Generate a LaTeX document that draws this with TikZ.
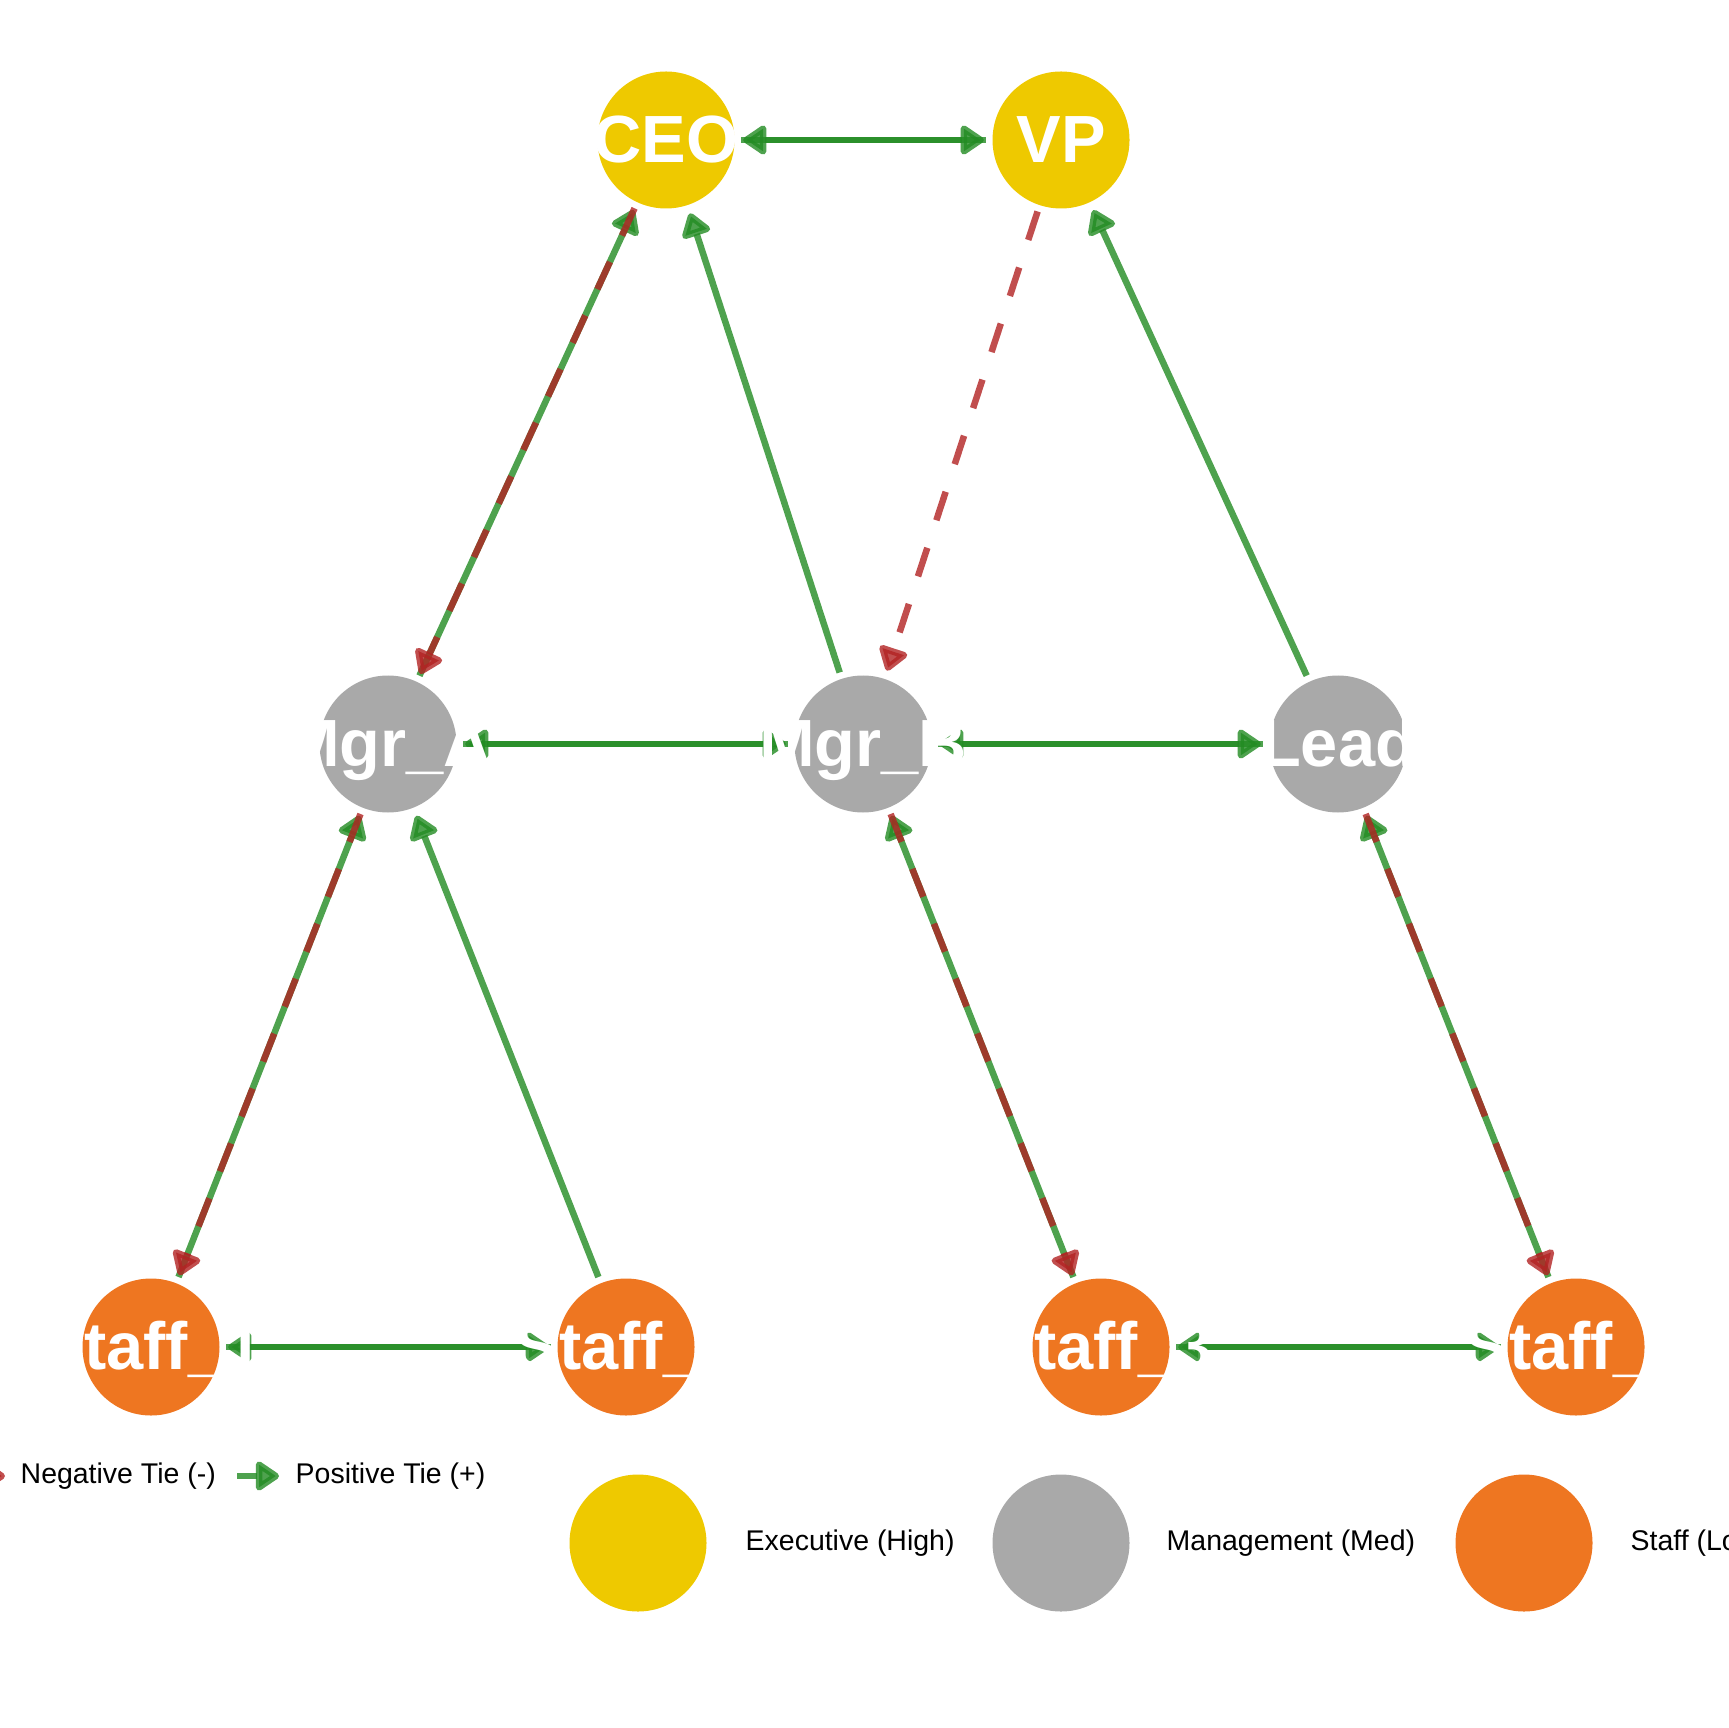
\documentclass[tikz,border=0pt]{standalone}
\usepackage{fontspec}
\setmainfont{Liberation Sans}
\usetikzlibrary{arrows.meta,backgrounds,positioning}
\definecolor{execyellow}{HTML}{EEC900}
\definecolor{mgmtgray}{HTML}{A9A9A9}
\definecolor{stafforange}{HTML}{EE7621}
\definecolor{posgreen}{HTML}{228B22}
\definecolor{negred}{HTML}{B22222}
\newcommand{\actorname}[1]{\makebox[0pt]{\smash{#1}\vphantom{E}}}
\begin{document}
\begin{tikzpicture}[x=1mm,y=-1mm,node distance=47.5mm,
    actor/.style={circle,minimum size=13.7mm,inner sep=0pt,text=white,font=\fontsize{19}{23}\selectfont\bfseries},
    execnode/.style={actor,fill=execyellow},
    mgmtnode/.style={actor,fill=mgmtgray},
    staffnode/.style={actor,fill=stafforange},
    tie/.style={line width=0.65mm,opacity=0.8,shorten >=0.8mm,shorten <=0.6mm,-{Triangle[length=2.6mm,width=3.3mm,round]}},
    postie/.style={tie,draw=posgreen},
    negtie/.style={tie,draw=negred,dash pattern=on 3mm off 2.9mm},
    legendtext/.style={anchor=west,inner sep=0pt,font=\fontsize{8.1}{10}\selectfont}]
    \useasboundingbox (0,0) rectangle (172.8,172.8);
    \clip (0,0) rectangle (172.8,172.8);
    % actors
    \node [execnode] (ceo) at (66.6,14) {\actorname{CEO}};
    \node [execnode] (vp) [right of=ceo,node distance=39.5mm] {\actorname{VP}};
    \node [mgmtnode] (mgra) at (38.8,74.4) {\actorname{Mgr\_A}};
    \node [mgmtnode] (mgrb) [right of=mgra] {\actorname{Mgr\_B}};
    \node [mgmtnode] (lead) [right of=mgrb] {\actorname{Lead}};
    \node [staffnode] (staffone) at (15.1,134.7) {\actorname{Staff\_1}};
    \node [staffnode] (stafftwo) [right of=staffone] {\actorname{Staff\_2}};
    \node [staffnode] (staffthree) [right of=stafftwo] {\actorname{Staff\_3}};
    \node [staffnode] (stafffour) [right of=staffthree] {\actorname{Staff\_4}};
    % ties
    \begin{pgfonlayer}{background}
        \path (ceo) edge [postie] (vp);
        \path (vp) edge [postie] (ceo);
        \path (mgra) edge [postie] (ceo);
        \path (mgrb) edge [postie] (ceo);
        \path (lead) edge [postie] (vp);
        \path (mgrb) edge [postie] (mgra);
        \path (mgra) edge [postie] (mgrb);
        \path (mgrb) edge [postie] (lead);
        \path (lead) edge [postie] (mgrb);
        \path (staffone) edge [postie] (mgra);
        \path (stafftwo) edge [postie] (mgra);
        \path (staffone) edge [postie] (stafftwo);
        \path (stafftwo) edge [postie] (staffone);
        \path (staffthree) edge [postie] (mgrb);
        \path (stafffour) edge [postie] (lead);
        \path (staffthree) edge [postie] (stafffour);
        \path (stafffour) edge [postie] (staffthree);
        \path (ceo) edge [negtie] (mgra);
        \path (vp) edge [negtie] (mgrb);
        \path (mgra) edge [negtie] (staffone);
        \path (mgrb) edge [negtie] (staffthree);
        \path (lead) edge [negtie] (stafffour);
    \end{pgfonlayer}
    % legend
    \coordinate (negkeya) at (-4,147.6);
    \coordinate (negkeyb) at (0.5,147.6);
    \coordinate (poskeya) at (23.7,147.6);
    \coordinate (poskeyb) at (27.9,147.6);
    \path (negkeya) edge [negtie,shorten >=0pt,shorten <=0pt] (negkeyb);
    \path (poskeya) edge [postie,shorten >=0pt,shorten <=0pt] (poskeyb);
    \node [legendtext] (negtext) at (2.0,147.6) {Negative Tie (-)};
    \node [legendtext] (postext) at (29.5,147.6) {Positive Tie (+)};
    \node [execnode] (legexec) at (63.8,154.3) {};
    \node [mgmtnode] (legmgmt) at (106.1,154.3) {};
    \node [staffnode] (legstaff) at (152.4,154.3) {};
    \node [legendtext] (legexectext) at (74.5,154.3) {Executive (High)};
    \node [legendtext] (legmgmttext) at (116.6,154.3) {Management (Med)};
    \node [legendtext] (legstafftext) at (163.0,154.3) {Staff (Low)};
\end{tikzpicture}
\end{document}
